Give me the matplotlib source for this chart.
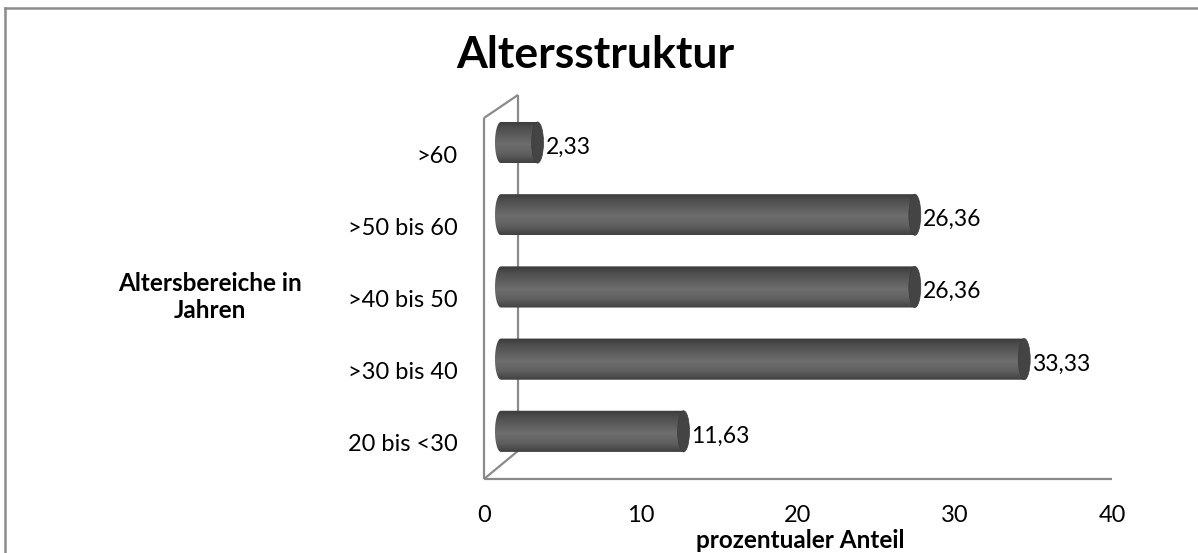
import numpy as np
import matplotlib
matplotlib.use("Agg")
import matplotlib.pyplot as plt
from matplotlib.patches import Ellipse, Polygon
from matplotlib.colors import LinearSegmentedColormap
from matplotlib.lines import Line2D

plt.rcParams['font.family'] = ['Lato', 'DejaVu Sans']

# Data
categories = ["20 bis <30", ">30 bis 40", ">40 bis 50", ">50 bis 60", ">60"]
values = [11.63, 33.33, 26.36, 26.36, 2.33]
value_labels = ["11,63", "33,33", "26,36", "26,36", "2,33"]
x_ticks = [0, 10, 20, 30, 40]
title = "Altersstruktur"
x_label = "prozentualer Anteil"
y_label = "Altersbereiche in\nJahren"

W, H = 1198, 553
fig = plt.figure(figsize=(W / 100, H / 100), dpi=100)
ax = fig.add_axes([484 / W, (H - 479) / H, (1112 - 484) / W, (479 - 118) / H])
ax.set_xlim(0, 40)
ax.set_ylim(0, len(categories))
for s in ax.spines.values():
    s.set_visible(False)
ax.patch.set_alpha(0)

# pseudo-3D geometry (data units)
back_dx, back_dy_bot, back_dy_top = 2.17, 0.39, 0.32
mid_dx, mid_dy = 1.08, 0.16
half_h = 0.285
cap_w = 0.38
wall_col = "#8a8a8a"

# walls / floor edges
wall_kw = dict(color=wall_col, lw=1.6, clip_on=False, zorder=1, solid_capstyle='butt')
n = len(categories)
ax.plot([0, 40], [0, 0], **wall_kw)
ax.plot([0, 0], [0, n], **wall_kw)
ax.plot([0, back_dx], [n, n + back_dy_top], **wall_kw)
ax.plot([0, back_dx], [0, back_dy_bot], **wall_kw)
ax.plot([back_dx, back_dx], [back_dy_bot, n + back_dy_top], **wall_kw)

# cylinder shading
body_cmap = LinearSegmentedColormap.from_list(
    "cyl", [(0.0, "#3a3a3a"), (0.15, "#4c4c4c"), (0.55, "#6e6e6e"),
            (0.8, "#5e5e5e"), (1.0, "#404040")])
grad = np.linspace(0, 1, 256).reshape(-1, 1)

for i, (v, lab) in enumerate(zip(values, value_labels)):
    yc = i + 0.5 + mid_dy
    x0 = mid_dx
    x1 = mid_dx + v
    t = np.linspace(np.pi / 2, 3 * np.pi / 2, 40)
    pts = np.column_stack([x0 + cap_w * np.cos(t), yc + half_h * np.sin(t)])
    pts = np.vstack([pts, [[x1, yc - half_h], [x1, yc + half_h]]])
    body = Polygon(pts, closed=True, facecolor="none", edgecolor="none",
                   transform=ax.transData)
    ax.add_patch(body)
    im = ax.imshow(grad, cmap=body_cmap, aspect='auto', origin='upper',
                   extent=[x0 - cap_w, x1, yc - half_h, yc + half_h],
                   zorder=3, clip_on=True, interpolation='bilinear')
    im.set_clip_path(body)
    cap = Ellipse((x1, yc), 2 * cap_w, 2 * half_h, facecolor="#444444",
                  edgecolor="#3c3c3c", lw=0.5, zorder=4)
    ax.add_patch(cap)
    ax.annotate(lab, xy=(x1 + cap_w, yc), xytext=(1.5, -3.5), textcoords='offset points',
                ha='left', va='center', fontsize=16.5, color='black', zorder=5)

ax.set_xlim(0, 40)
ax.set_ylim(0, n)

ax.set_xticks(x_ticks)
ax.set_xticklabels([str(x) for x in x_ticks], fontsize=17)
ax.set_yticks(np.arange(n) + 0.5)
ax.set_yticklabels(categories, fontsize=17)
ax.tick_params(axis='x', length=0, pad=18.5)
ax.tick_params(axis='y', length=0, pad=19)

fig.text(595 / W, 1 - 55 / H, title, ha='center', va='center',
         fontsize=32, fontweight='bold')
fig.text(800 / W, 1 - 541 / H, x_label, ha='center', va='center',
         fontsize=17.5, fontweight='bold')
fig.text(210 / W, 1 - 297 / H, y_label, ha='center', va='center',
         fontsize=17.5, fontweight='bold', linespacing=1.2)

# chart frame
fig.add_artist(Line2D([5 / W, 1], [1 - 8 / H, 1 - 8 / H], color="#8c8c8c", lw=1.8))
fig.add_artist(Line2D([5 / W, 5 / W], [0, 1 - 8 / H], color="#8c8c8c", lw=1.8))

fig.savefig("out.png", dpi=100)
